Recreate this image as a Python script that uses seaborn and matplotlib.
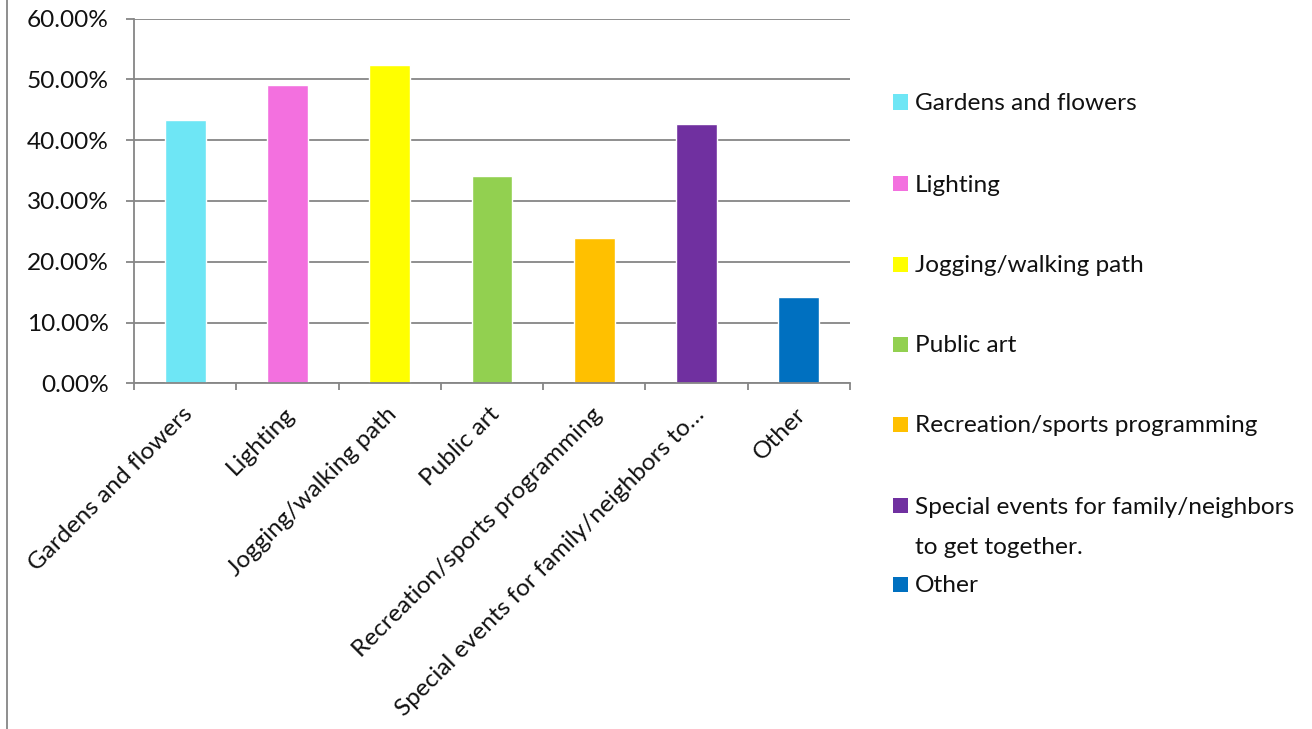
import matplotlib
matplotlib.use("Agg")
import matplotlib.pyplot as plt
import matplotlib.ticker as mticker
import matplotlib.transforms as mtransforms
from matplotlib.patches import Rectangle
from matplotlib.lines import Line2D
import seaborn as sns
import pandas as pd

# Survey results: share of respondents choosing each amenity
categories = [
    "Gardens and flowers",
    "Lighting",
    "Jogging/walking path",
    "Public art",
    "Recreation/sports programming",
    "Special events for family/neighbors to get together.",
    "Other",
]
axis_labels = [
    "Gardens and flowers",
    "Lighting",
    "Jogging/walking path",
    "Public art",
    "Recreation/sports programming",
    "Special events for family/neighbors to\u2026",
    "Other",
]
legend_labels = [
    "Gardens and flowers",
    "Lighting",
    "Jogging/walking path",
    "Public art",
    "Recreation/sports programming",
    "Special events for family/neighbors\nto get together.",
    "Other",
]
shares = [0.4333, 0.4904, 0.5233, 0.3410, 0.2390, 0.4267, 0.1420]
colors = ["#6EE6F5", "#F370DF", "#FFFF00", "#92D050", "#FFC000", "#7030A0", "#0070C0"]

sns.set_theme(style="white")
plt.rcParams["font.family"] = ["Lato", "DejaVu Sans"]

W, H = 1312, 729
fig = plt.figure(figsize=(W / 100, H / 100), dpi=100)
ax = fig.add_axes([134 / W, 1 - 383.3 / H, (850 - 134) / W, (383.3 - 18.7) / H])

df = pd.DataFrame({"category": categories, "share": shares})
sns.barplot(data=df, x="category", y="share", hue="category",
            palette=colors, width=0.4, legend=False, ax=ax, saturation=1)

grid_c = "#868686"
text_c = "#111111"
fs = 17.6

ax.set_ylim(0, 0.6)
ax.set_xlim(-0.5, len(categories) - 0.5)
ax.yaxis.set_major_locator(mticker.MultipleLocator(0.1))
ax.yaxis.set_major_formatter(mticker.FuncFormatter(lambda v, p: f"{v * 100:.2f}%"))
ax.grid(axis="y", color=grid_c, linewidth=1.3)
ax.set_axisbelow(True)
ax.set_xlabel("")
ax.set_ylabel("")

for s in ("top", "right"):
    ax.spines[s].set_visible(False)
for s in ("left", "bottom"):
    ax.spines[s].set_color(grid_c)
    ax.spines[s].set_linewidth(1.3)

ax.tick_params(axis="y", which="major", length=5.8, width=1.3, color=grid_c,
               labelsize=fs, labelcolor=text_c, pad=12.5, left=True)

# category labels at bar centres, tick marks at category boundaries
ax.set_xticks(range(len(categories)))
ax.set_xticklabels(axis_labels, rotation=45, ha="right", va="center",
                   rotation_mode="anchor")
ax.set_xticks([i - 0.5 for i in range(len(categories) + 1)], minor=True)
ax.tick_params(axis="x", which="major", length=0, labelsize=fs,
               labelcolor=text_c, pad=20)
ax.tick_params(axis="x", which="minor", length=5, width=1.3, color=grid_c,
               bottom=True)
shift = mtransforms.ScaledTranslation(4 / 100, 0, fig.dpi_scale_trans)
for lbl in ax.get_xticklabels():
    lbl.set_transform(lbl.get_transform() + shift)

# legend on the right
legend_y = [102, 183, 264, 344, 424, 505, 584]
sq = 15
for lab, col, y in zip(legend_labels, colors, legend_y):
    fig.add_artist(Rectangle((893 / W, 1 - (y + sq / 2) / H), sq / W, sq / H,
                             transform=fig.transFigure, facecolor=col,
                             edgecolor="none"))
    for k, line in enumerate(lab.split("\n")):
        fig.text(915 / W, 1 - (y + 40 * k) / H, line, fontsize=fs, color=text_c,
                 ha="left", va="center_baseline", transform=fig.transFigure)

# thin frame line along the left edge
fig.add_artist(Line2D([7 / W, 7 / W], [0, 1], transform=fig.transFigure,
                      color=grid_c, linewidth=1.3))

fig.savefig("out.png", dpi=100, facecolor="white")
